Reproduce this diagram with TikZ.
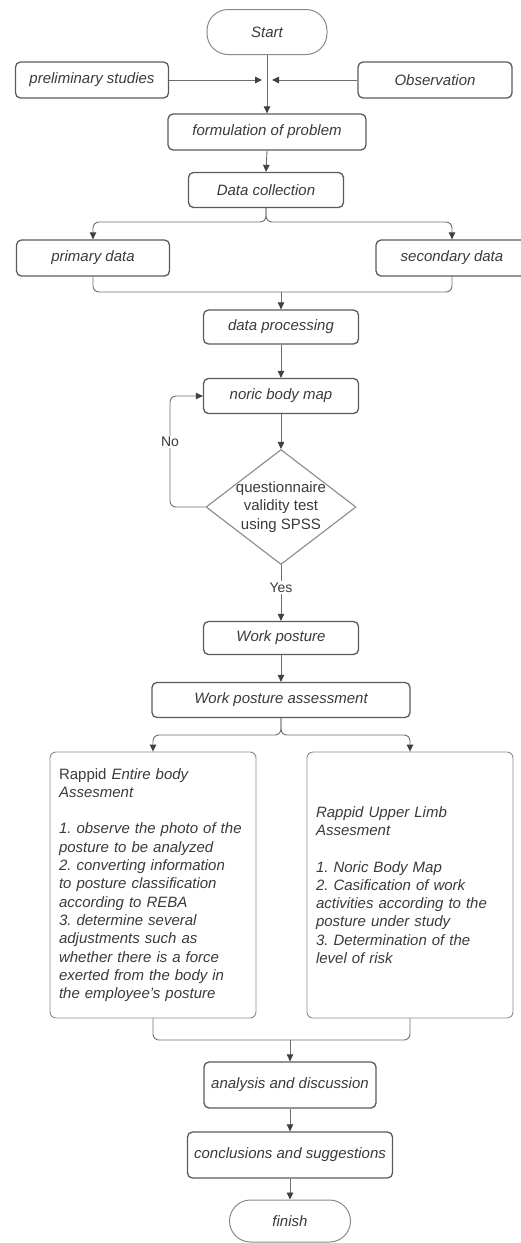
\documentclass[tikz,border=0pt]{standalone}
\usepackage{fontspec}
\setmainfont{Liberation Sans}
\usetikzlibrary{shapes.geometric,arrows.meta}
\definecolor{txt}{HTML}{3A3A3A}
\definecolor{bd}{HTML}{5A5A5A}
\definecolor{lt}{HTML}{8A8A8A}
\definecolor{ln}{HTML}{6E6E6E}
\definecolor{tip}{HTML}{404040}
\frenchspacing
\begin{document}
\begin{tikzpicture}[x=1pt,y=-1pt,
  every node/.style={text=txt},
  fnt/.style={font=\fontsize{15}{18.3}\selectfont},
  box/.style={font=\fontsize{15}{18.3}\selectfont\itshape, draw=bd, line width=1.3pt, rounded corners=5pt, inner sep=0pt},
  term/.style={box, draw=lt, line width=1pt, rounded corners=21pt},
  bigbox/.style={font=\fontsize{15}{18.3}\selectfont\itshape, draw=lt, line width=0.9pt, rounded corners=6pt, text width=188pt, inner xsep=9pt, inner ysep=0pt, minimum height=266pt, align=left},
  decbox/.style={diamond, draw=lt, line width=1.1pt, minimum width=150pt, minimum height=115pt, inner sep=0pt},
  con/.style={draw=ln, line width=0.9pt, rounded corners=6pt},
  arr/.style={con, -{Triangle[length=7pt,width=6.5pt,color=tip]}},
  lbl/.style={fill=white, inner sep=1.5pt, font=\fontsize{14}{16}\selectfont}]
\useasboundingbox (0,0) rectangle (521,1243);

% nodes
\node[term, minimum width=120pt, minimum height=45pt] (start) at (267,32) {Start};
\node[box, minimum width=153pt, minimum height=36pt] (prelim) at (92,80) {preliminary studies};
\node[box, minimum width=154pt, minimum height=36pt] (obs) at (435,80) {Observation};
\node[box, minimum width=198pt, minimum height=36pt] (form) at (267,132) {formulation of problem};
\node[box, minimum width=155pt, minimum height=35pt] (data) at (266,190) {Data collection};
\node[box, minimum width=153pt, minimum height=36pt] (prim) at (93,258) {primary data};
\node[box, minimum width=152pt, minimum height=36pt] (sec) at (452,258) {secondary data};
\node[box, minimum width=155pt, minimum height=34pt] (dproc) at (281,327) {data processing};
\node[box, minimum width=155pt, minimum height=35pt] (noric) at (281,396) {noric body map};
\node[decbox] (dia) at (281,507) {};
\node[fnt, align=center, inner sep=0pt] (diatext) at (dia.center) {questionnaire\\validity test\\using SPSS};
\node[box, minimum width=155pt, minimum height=33pt] (wp) at (281,638) {Work posture};
\node[box, minimum width=258pt, minimum height=35pt] (wpa) at (281,700) {Work posture assessment};
\node[bigbox] (lbox) at (153,885) {{\upshape Rappid} Entire body\\Assesment\\[18.3pt]1. observe the photo of the\\posture to be analyzed\\2. converting information\\to posture classification\\according to REBA\\3. determine several\\adjustments such as\\whether there is a force\\exerted from the body in\\the employee's posture};
\node[bigbox] (rbox) at (410,885) {Rappid Upper Limb\\Assesment\\[18.3pt]1. Noric Body Map\\2. Casification of work\\activities according to the\\posture under study\\3. Determination of the\\level of risk};
\node[box, minimum width=172pt, minimum height=46pt] (anal) at (290,1085) {analysis and discussion};
\node[box, minimum width=205pt, minimum height=46pt] (conc) at (290,1155) {conclusions and suggestions};
\node[term, minimum width=121pt, minimum height=42pt] (fin) at (290,1221) {finish};

% helper coordinates
\coordinate (jl) at (262,80);
\coordinate (jr) at (272,80);
\coordinate (s1) at (266,222);
\coordinate (s1l) at (93,222);
\coordinate (s1r) at (452,222);
\coordinate (m1l) at (93,292);
\coordinate (m1r) at (452,292);
\coordinate (m1) at (281,292);
\coordinate (nc) at (170,507);
\coordinate (s2) at (281,735);
\coordinate (s2l) at (153,735);
\coordinate (s2r) at (410,735);
\coordinate (m2l) at (153,1040);
\coordinate (m2r) at (410,1040);
\coordinate (m2) at (290,1040);

% connectors
\draw[arr] (start.south) -- (form.north);
\draw[arr] (prelim.east) -- (jl);
\draw[arr] (obs.west) -- (jr);
\draw[arr] (form.south) -- (data.north);
\draw[arr] (data.south) -- (s1) -- (s1l) -- (prim.north);
\draw[arr] (data.south) -- (s1) -- (s1r) -- (sec.north);
\draw[con] (prim.south) -- (m1l) -- (m1r) -- (sec.south);
\draw[arr] (m1) -- (dproc.north);
\draw[arr] (dproc.south) -- (noric.north);
\draw[arr] (noric.south) -- (dia.north);
\draw[arr] (dia.west) -- (nc) |- (noric.west);
\node[lbl] (no) at (170,442) {No};
\draw[arr] (dia.south) -- node[lbl, pos=0.4] (yes) {Yes} (wp.north);
\draw[arr] (wp.south) -- (wpa.north);
\draw[arr] (wpa.south) -- (s2) -- (s2l) -- (lbox.north);
\draw[arr] (wpa.south) -- (s2) -- (s2r) -- (rbox.north);
\draw[con] (lbox.south) -- (m2l) -- (m2r) -- (rbox.south);
\draw[arr] (m2) -- (anal.north);
\draw[arr] (anal.south) -- (conc.north);
\draw[arr] (conc.south) -- (fin.north);
\end{tikzpicture}
\end{document}
